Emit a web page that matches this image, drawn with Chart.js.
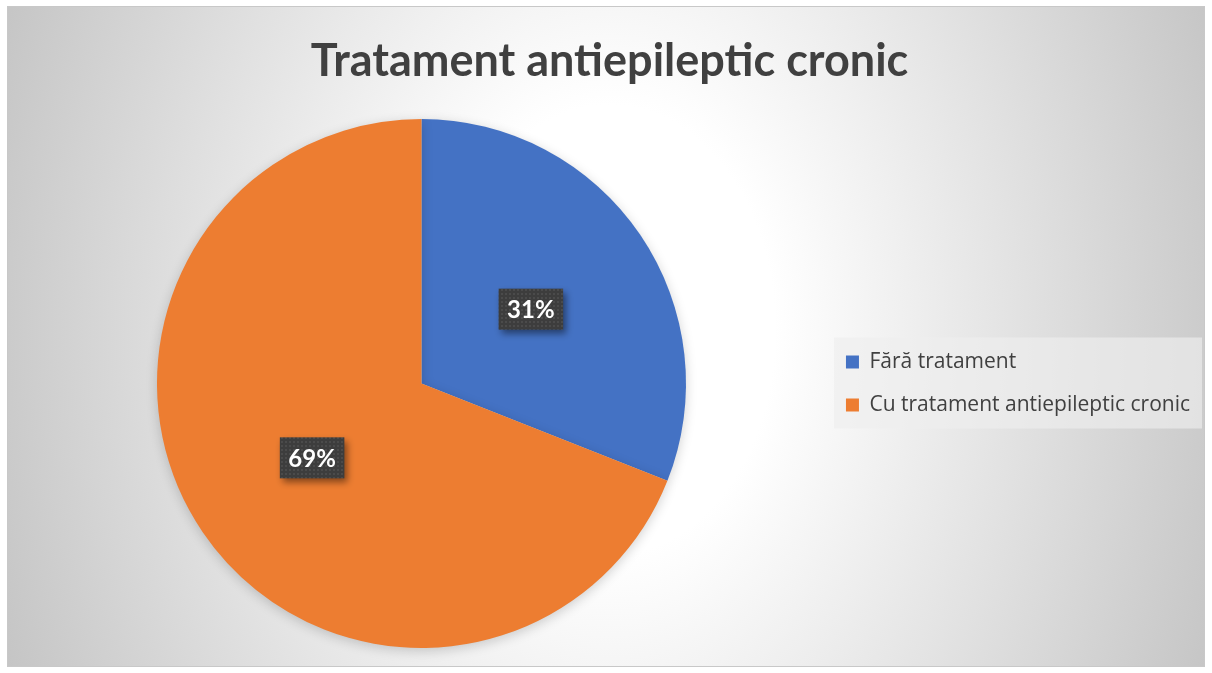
<!DOCTYPE html>
<html>
<head>
<meta charset="utf-8">
<title>Tratament antiepileptic cronic</title>
<script src="https://cdn.jsdelivr.net/npm/chart.js@4/dist/chart.umd.min.js"></script>
<style>
	html, body { margin: 0; padding: 0; background: #fff; }
	canvas { display: block; }
</style>
</head>
<body>
<canvas id="pie_chart" width="1212" height="673"></canvas>
<script>
// data
const chart_title = "Tratament antiepileptic cronic";
const categories = ["Fără tratament", "Cu tratament antiepileptic cronic"];
const values = [31, 69];
const slice_colors = ["#4472C4", "#ED7D31"];

const ctx = document.getElementById("pie_chart").getContext("2d");

const legend_font = { family: "Open Sans", size: 21 };
const legend_pad = 22;

// right padding so the legend box ends where the pie area should stop
ctx.font = legend_font.size + "px '" + legend_font.family + "'";
let longest = 0;
categories.forEach((c) => {
	longest = Math.max(longest, ctx.measureText(c).width);
});
const legend_left = 824;
const pad_right = Math.max(2, Math.round(ctx.canvas.width - (legend_left + legend_pad + 13 + legend_font.size / 2 + longest + 10)));

// dotted dark fill used behind the data labels
function makeLabelPattern() {
	const tile = document.createElement("canvas");
	tile.width = 4;
	tile.height = 4;
	const t = tile.getContext("2d");
	t.fillStyle = "#3d3d3d";
	t.fillRect(0, 0, 4, 4);
	t.fillStyle = "#4b4b4b";
	t.fillRect(1, 1, 2, 2);
	return ctx.createPattern(tile, "repeat");
}
const label_pattern = makeLabelPattern();

// frame + radial grey background + legend box
const backgroundPlugin = {
	id: "background",
	beforeDraw(chart) {
		const c = chart.ctx;
		const w = chart.width, h = chart.height;
		const x0 = 7, y0 = 6, x1 = w - 7, y1 = h - 6;
		c.save();
		c.fillStyle = "#ffffff";
		c.fillRect(0, 0, w, h);
		c.beginPath();
		c.rect(x0, y0, x1 - x0, y1 - y0);
		c.clip();
		c.translate(610, 330);
		c.scale(660, 900);
		const g = c.createRadialGradient(0, 0, 0, 0, 0, 1);
		g.addColorStop(0, "#ffffff");
		g.addColorStop(0.25, "#ffffff");
		g.addColorStop(1, "#c4c4c4");
		c.fillStyle = g;
		c.fillRect(-2, -2, 4, 4);
		c.restore();
		c.save();
		c.strokeStyle = "#c8c8c8";
		c.lineWidth = 1;
		c.strokeRect(x0 + 0.5, y0 + 0.5, x1 - x0 - 1, y1 - y0 - 1);
		c.restore();

		// light box behind legend
		const boxes = chart.legend.legendHitBoxes;
		if (!boxes || !boxes.length) return;
		let l = Infinity, t = Infinity, r = -Infinity, b = -Infinity;
		boxes.forEach((hb) => {
			l = Math.min(l, hb.left);
			t = Math.min(t, hb.top);
			r = Math.max(r, hb.left + hb.width);
			b = Math.max(b, hb.top + hb.height);
		});
		c.save();
		c.fillStyle = "rgba(238,238,238,0.65)";
		c.fillRect(l - 12, t - 14, r - l + 24, b - t + 27);
		c.restore();
	},
};

// soft shadow under the pie
const shadowPlugin = {
	id: "pieShadow",
	beforeDatasetDraw(chart) {
		const c = chart.ctx;
		c.save();
		c.shadowColor = "rgba(0,0,0,0.18)";
		c.shadowBlur = 12;
		c.shadowOffsetX = 0;
		c.shadowOffsetY = 3;
	},
	afterDatasetDraw(chart) {
		chart.ctx.restore();
	},
};

// percentage labels on dark boxes
const dataLabelPlugin = {
	id: "pctLabels",
	afterDatasetsDraw(chart) {
		const c = chart.ctx;
		const meta = chart.getDatasetMeta(0);
		const data = chart.data.datasets[0].data;
		const total = data.reduce((a, b) => a + b, 0);
		c.save();
		c.font = "bold 24px Lato";
		c.textAlign = "center";
		c.textBaseline = "middle";
		meta.data.forEach((arc, i) => {
			const pos = arc.tooltipPosition(true);
			const txt = Math.round((data[i] / total) * 100) + "%";
			const tw = c.measureText(txt).width;
			const bw = tw + 17, bh = 41;
			const bx = pos.x - bw / 2, by = pos.y - bh / 2;
			c.save();
			c.shadowColor = "rgba(0,0,0,0.45)";
			c.shadowBlur = 7;
			c.shadowOffsetX = 3;
			c.shadowOffsetY = 4;
			c.fillStyle = label_pattern;
			c.fillRect(bx, by, bw, bh);
			c.restore();
			c.fillStyle = "#ffffff";
			c.fillText(txt, pos.x, pos.y + 1);
		});
		c.restore();
	},
};

let my_chart = new Chart(ctx, {
	type: "pie",
	data: {
		labels: categories,
		datasets: [
			{
				data: values,
				backgroundColor: slice_colors,
				borderWidth: 0,
			},
		],
	},
	options: {
		responsive: false,
		animation: false,
		layout: {
			padding: { left: 19, right: pad_right, top: 6, bottom: 25 },
		},
		plugins: {
			title: {
				display: true,
				text: chart_title,
				color: "#404040",
				font: { family: "Lato", size: 45, weight: "bold" },
				padding: { top: 28, bottom: 31 },
			},
			legend: {
				position: "right",
				// empty legend title only pushes the items down to the pie centre
				title: {
					display: true,
					text: "",
					font: { size: 10 },
					padding: { top: 0, bottom: 101 },
				},
				labels: {
					boxWidth: 13,
					boxHeight: 13,
					padding: legend_pad,
					color: "#404040",
					font: legend_font,
				},
			},
			tooltip: { enabled: false },
		},
	},
	plugins: [backgroundPlugin, shadowPlugin, dataLabelPlugin],
});
</script>
</body>
</html>
